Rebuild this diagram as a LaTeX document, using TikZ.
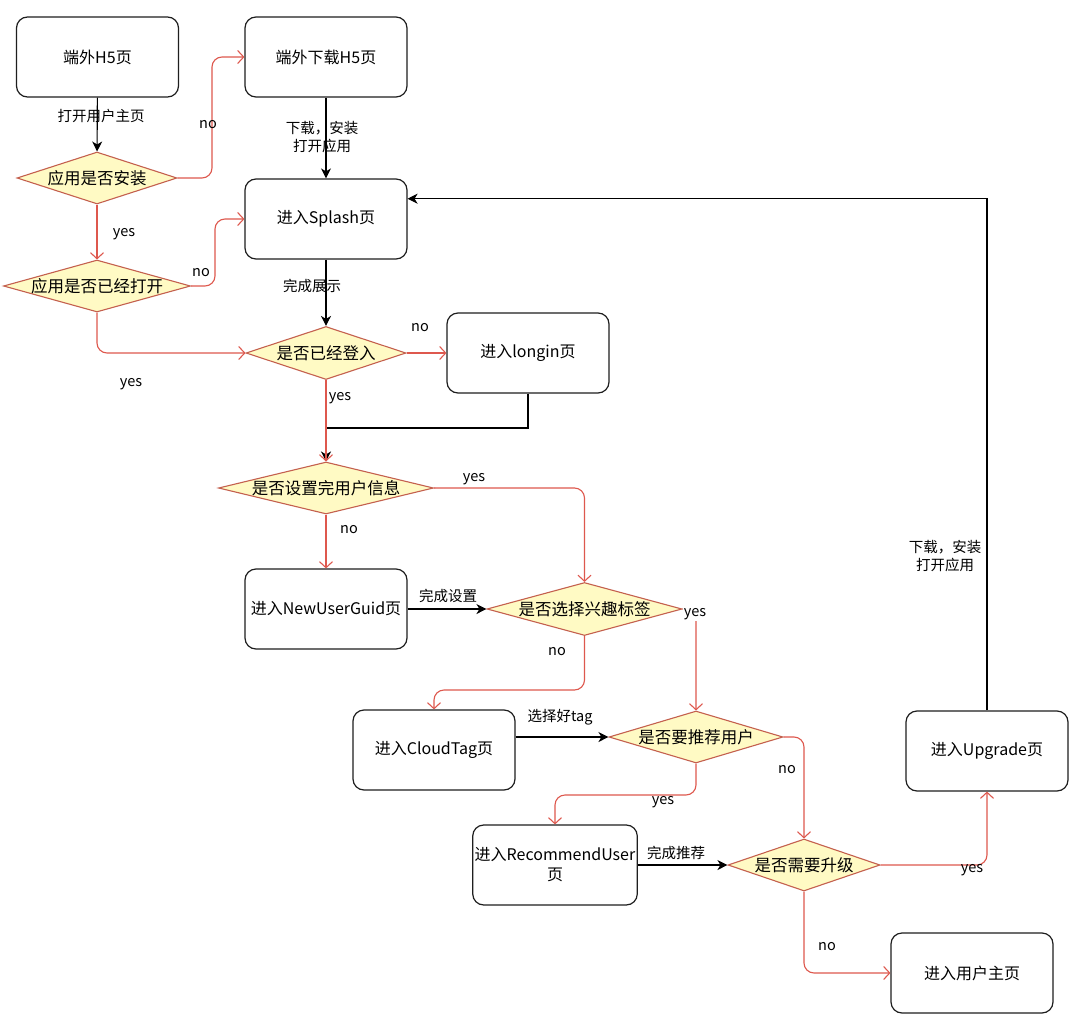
\documentclass[tikz,border=0pt]{standalone}
\usepackage{fontspec}
\setmainfont{Noto Sans CJK SC}
\usetikzlibrary{shapes.geometric,arrows.meta,calc}
\definecolor{redline}{RGB}{222,88,78}
\definecolor{dstroke}{RGB}{196,96,78}
\definecolor{dfill}{RGB}{255,250,196}
\definecolor{boxline}{RGB}{30,30,30}
\tikzset{
  stepbox/.style={draw=boxline, line width=1.2pt, rounded corners=11pt, minimum width=162pt, minimum height=80pt, inner sep=2pt, font=\fontsize{16}{20}\selectfont, align=center},
  decision/.style={diamond, draw=dstroke, fill=dfill, line width=1.1pt, inner sep=0pt},
  dtext/.style={font=\fontsize{16.5}{20}\selectfont},
  redarr/.style={draw=redline, line width=1.1pt, rounded corners=10pt, -{Straight Barb[length=6pt,width=13pt,line width=1.1pt]}},
  blkarr/.style={draw=black, line width=1.1pt, -{Stealth[length=10pt,width=10pt,inset=3pt]}},
  lab/.style={font=\fontsize{14.5}{17.5}\selectfont, inner sep=1pt, align=center}
}
\begin{document}
\begin{tikzpicture}[x=1pt,y=-1pt]
\useasboundingbox[fill=white] (0,0) rectangle (1080,1028);
% boxes
\node[stepbox] (A) at (97.5,57) {端外H5页};
\node[stepbox] (B) at (326,57) {端外下载H5页};
\node[stepbox] (C) at (326,219) {进入Splash页};
\node[stepbox] (E) at (528,353) {进入longin页};
\node[stepbox] (F) at (326,609) {进入NewUserGuid页};
\node[stepbox] (G) at (434,750) {进入CloudTag页};
\node[stepbox] (H) at (555,865) {进入RecommendUser\\页};
\node[stepbox] (I) at (987,751) {进入Upgrade页};
\node[stepbox] (J) at (972,973) {进入用户主页};
% decisions
\node[decision, minimum width=160pt, minimum height=52pt, label={[dtext]center:应用是否安装}] (D1) at (97,178) {};
\node[decision, minimum width=187pt, minimum height=52pt, label={[dtext]center:应用是否已经打开}] (D2) at (97,286) {};
\node[decision, minimum width=160pt, minimum height=53pt, label={[dtext]center:是否已经登入}] (D3) at (326,353) {};
\node[decision, minimum width=215pt, minimum height=52pt, label={[dtext]center:是否设置完用户信息}] (D4) at (326,488) {};
\node[decision, minimum width=195pt, minimum height=53pt, label={[dtext]center:是否选择兴趣标签}] (D5) at (584.5,609) {};
\node[decision, minimum width=174pt, minimum height=52pt, label={[dtext]center:是否要推荐用户}] (D6) at (696,737) {};
\node[decision, minimum width=152pt, minimum height=52pt, label={[dtext]center:是否需要升级}] (D7) at (804,865) {};
% black connectors
\draw[blkarr] (A) -- (D1);
\draw[blkarr] (B) -- (C);
\draw[blkarr] (C) -- (D3);
\draw[blkarr] (E.south) -- (528,428) -- (326,428) -- (D4.north);
\draw[blkarr] (F) -- (D5);
\draw[blkarr] (G.east |- D6.west) -- (D6.west);
\draw[blkarr] (H.east) -- (H.east -| D7.west);
\coordinate (Cin) at ($(C.north east)!0.25!(C.south east)$);
\draw[blkarr] (I.north) -- (I.north |- Cin) -- (Cin);
% red connectors
\draw[redarr] (D1.east) -- (212,178) -- (212,57) -- (B.west);
\draw[redarr] (D1.south) -- (D2.north);
\draw[redarr] (D2.east) -- (215,286) -- (215,219) -- (C.west);
\draw[redarr] (D2.south) |- (D3.west);
\draw[redarr] (D3.east) -- (E.west);
\draw[redarr] (D3.south) -- (D4.north);
\draw[redarr] (D4.east) -| (D5.north);
\draw[redarr] (D4.south) -- (F.north);
\draw[redarr] (D5.south) -- (D5.south |- 0,690) -| (G.north);
\draw[redarr] (D5.east) -| (D6.north);
\draw[redarr] (D6.south) -- (D6.south |- 0,795) -| (H.north);
\draw[redarr] (D6.east) -| (D7.north);
\draw[redarr] (D7.east) -| (I.south);
\draw[redarr] (D7.south) |- (J.west);
% labels
\node[lab] (l1) at (101,116) {打开用户主页};
\node[lab] (l2) at (208,125) {no};
\node[lab] (l3) at (322,137) {下载，安装\\打开应用};
\node[lab] (l4) at (124,234) {yes};
\node[lab] (l5) at (201,273) {no};
\node[lab] (l6) at (312,286) {完成展示};
\node[lab] (l7) at (131,384) {yes};
\node[lab] (l8) at (420,328) {no};
\node[lab] (l9) at (340,398) {yes};
\node[lab] (l10) at (474,479) {yes};
\node[lab] (l11) at (349,530) {no};
\node[lab] (l12) at (448,596) {完成设置};
\node[lab] (l13) at (557,652) {no};
\node[lab, fill=white] (l14) at (695,614) {yes};
\node[lab] (l15) at (560,717) {选择好tag};
\node[lab] (l16) at (663,802) {yes};
\node[lab] (l17) at (787,770) {no};
\node[lab] (l18) at (676,853) {完成推荐};
\node[lab] (l19) at (972,870) {yes};
\node[lab] (l20) at (827,947) {no};
\node[lab] (l21) at (945,556) {下载，安装\\打开应用};
\end{tikzpicture}
\end{document}
